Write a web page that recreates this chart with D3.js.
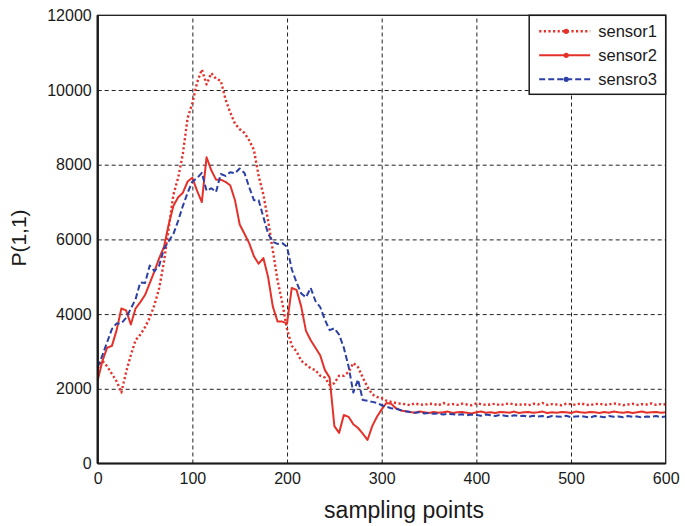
<!DOCTYPE html>
<html>
<head>
<meta charset="utf-8">
<script src="https://cdn.jsdelivr.net/npm/d3@7"></script>
<style>
  body { margin: 0; background: #fff; }
  text { font-family: "Liberation Sans", Arial, sans-serif; fill: #1a1a1a; }
</style>
</head>
<body>
<div id="chart"></div>
<script>
// sampling step between read-off values
var step = 5;

// sensor1 (dotted), read every 5 samples
var sensor1 = [
  2550, 2750, 2600, 2400, 2200, 1900, 2450, 2900, 3300, 3450,
  3650, 3900, 4250, 4700, 5400, 6300, 7200, 7650, 8300, 9250,
  9650, 10200, 10550, 10150, 10450, 10300, 10250, 9750, 9400, 9100,
  8950, 8850, 8650, 8400, 7700, 7200, 6500, 5700, 4900, 4300,
  3600, 3150, 3000, 2750, 2650, 2550, 2500, 2350, 2300, 2100,
  2150, 2350, 2350, 2450, 2690, 2580, 2300, 2050, 1850, 1780,
  1750, 1680, 1650, 1620, 1600,
  1590, 1560, 1610, 1580, 1570, 1600, 1590, 1560,
  1620, 1580, 1590, 1570, 1600, 1580, 1560, 1610,
  1590, 1570, 1580, 1600, 1560, 1590, 1610, 1580,
  1570, 1590, 1560, 1600, 1580, 1620, 1570, 1590,
  1580, 1560, 1600, 1590, 1570, 1610, 1580, 1560,
  1590, 1600, 1570, 1580, 1610, 1590, 1560, 1580,
  1600, 1570, 1590, 1580, 1610, 1570, 1590, 1580
];

// sensor2 (solid)
var sensor2 = [
  2230, 2750, 3100, 3150, 3570, 4150, 4100, 3720, 4150, 4320,
  4510, 4830, 5150, 5500, 5800, 6400, 6900, 7130, 7250, 7550,
  7650, 7300, 7000, 8200, 7850, 7600, 7600, 7540, 7450, 7050,
  6400, 6150, 5900, 5550, 5350, 5500, 4990, 4200, 3800, 3800,
  3750, 4700, 4650, 4200, 3550, 3300, 3100, 2900, 2500, 2300,
  1000, 820, 1300, 1250, 1050, 950, 800, 630, 1000, 1250,
  1450, 1620, 1600, 1480, 1420,
  1400, 1380, 1360, 1390, 1370, 1350, 1380, 1360,
  1370, 1390, 1350, 1370, 1380, 1360, 1340, 1370,
  1390, 1360, 1370, 1350, 1380, 1370, 1360, 1390,
  1350, 1370, 1380, 1360, 1370, 1390, 1350, 1370,
  1360, 1380, 1370, 1350, 1390, 1370, 1360, 1380,
  1370, 1350, 1380, 1360, 1390, 1370, 1360, 1380,
  1350, 1370, 1390, 1360, 1370, 1380, 1360, 1370
];

// sensro3 (dashed)
var sensor3 = [
  2580, 2900, 3250, 3600, 3750, 3750, 3900, 4150, 4400, 4850,
  4830, 5300, 5150, 5300, 5750, 5950, 6150, 6500, 6900, 7250,
  7550, 7640, 7780, 7300, 7370, 7270, 7750, 7700, 7800, 7770,
  7900, 7780, 7400, 7050, 7050, 6600, 6150, 5930, 5880, 5900,
  5800, 5200, 4850, 4550, 4450, 4700, 4350, 4190, 3850, 3570,
  3620, 3450, 3100, 2600, 1900, 2250, 1700, 1680, 1650, 1620,
  1560, 1520, 1480, 1470, 1430, 1400, 1380,
  1360, 1370, 1340, 1350, 1330, 1340, 1310, 1330,
  1320, 1300, 1320, 1290, 1310, 1300, 1280, 1310,
  1290, 1270, 1300, 1280, 1260, 1290, 1270, 1280,
  1250, 1280, 1260, 1270, 1240, 1270, 1260, 1250,
  1280, 1240, 1260, 1270, 1250, 1230, 1270, 1260,
  1240, 1270, 1250, 1260, 1240, 1270, 1250, 1260,
  1230, 1260, 1250, 1270, 1240, 1260
];

var seriesNames = ["sensor1", "sensor2", "sensro3"];
var xTicks = [0, 100, 200, 300, 400, 500, 600];
var yTicks = [0, 2000, 4000, 6000, 8000, 10000, 12000];

var svgWidth = 685;
var svgHeight = 526;
var margin = { top: 15.3, right: 19.3, bottom: 62.5, left: 97.7 };
var width = svgWidth - margin.left - margin.right;
var height = svgHeight - margin.top - margin.bottom;

var red = "#e4322b";
var blue = "#2b3fa6";

var styles = [
  { color: red, dash: "2.2,2.4", width: 2.4 },
  { color: red, dash: null, width: 2 },
  { color: blue, dash: "6,3", width: 2 }
];

var svg = d3.select("#chart")
    .append("svg")
    .attr("width", svgWidth)
    .attr("height", svgHeight);

var chartGroup = svg.append("g")
    .attr("transform", `translate(${margin.left}, ${margin.top})`);

var xScale = d3.scaleLinear().domain([0, 600]).range([0, width]);
var yScale = d3.scaleLinear().domain([0, 12000]).range([height, 0]);

// grid lines
chartGroup.append("g")
    .attr("transform", `translate(0,${height})`)
    .call(d3.axisBottom(xScale).tickValues(xTicks.slice(1, -1)).tickSize(-height).tickFormat(""))
    .call(g => g.select(".domain").remove())
    .selectAll("line")
    .attr("stroke", "#222")
    .attr("stroke-dasharray", "4,3");

chartGroup.append("g")
    .call(d3.axisLeft(yScale).tickValues(yTicks.slice(1, -1)).tickSize(-width).tickFormat(""))
    .call(g => g.select(".domain").remove())
    .selectAll("line")
    .attr("stroke", "#222")
    .attr("stroke-dasharray", "4,3");

// series
var line = d3.line()
    .x((d, i) => xScale(i * step))
    .y(d => yScale(d));

[sensor1, sensor2, sensor3].forEach(function(data, k) {
  chartGroup.append("path")
      .datum(data)
      .attr("fill", "none")
      .attr("stroke", styles[k].color)
      .attr("stroke-width", styles[k].width)
      .attr("stroke-dasharray", styles[k].dash)
      .attr("stroke-linejoin", "round")
      .attr("d", line);
});

// axes with labels
var xAxis = chartGroup.append("g")
    .attr("transform", `translate(0,${height})`)
    .call(d3.axisBottom(xScale).tickValues(xTicks).tickSize(0).tickPadding(9).tickFormat(d3.format("d")));
xAxis.select(".domain").remove();
xAxis.selectAll("text").attr("font-size", "16px").attr("fill", "#1a1a1a");

var yAxis = chartGroup.append("g")
    .call(d3.axisLeft(yScale).tickValues(yTicks).tickSize(0).tickPadding(6).tickFormat(d3.format("d")));
yAxis.select(".domain").remove();
yAxis.selectAll("text").attr("font-size", "16px").attr("fill", "#1a1a1a");

// box
chartGroup.append("rect")
    .attr("width", width)
    .attr("height", height)
    .attr("fill", "none")
    .attr("stroke", "#1a1a1a")
    .attr("stroke-width", 1.3);
chartGroup.append("line")
    .attr("x1", 0).attr("x2", 0).attr("y1", 0).attr("y2", height)
    .attr("stroke", "#1a1a1a").attr("stroke-width", 2.4);
chartGroup.append("line")
    .attr("x1", 0).attr("x2", width).attr("y1", height).attr("y2", height)
    .attr("stroke", "#1a1a1a").attr("stroke-width", 2);

// axis titles
svg.append("text")
    .attr("x", 404)
    .attr("y", 518)
    .attr("text-anchor", "middle")
    .attr("font-size", "23px")
    .text("sampling points");

svg.append("text")
    .attr("transform", "translate(26,238) rotate(-90)")
    .attr("text-anchor", "middle")
    .attr("font-size", "21px")
    .text("P(1,1)");

// legend
var legend = chartGroup.append("g")
    .attr("transform", `translate(${width - 136.5}, 0)`);

legend.append("rect")
    .attr("width", 136.5)
    .attr("height", 79)
    .attr("fill", "#fff")
    .attr("stroke", "#1a1a1a")
    .attr("stroke-width", 1.5);

seriesNames.forEach(function(name, k) {
  var yy = 16 + k * 24;
  legend.append("line")
      .attr("x1", 10).attr("x2", 61)
      .attr("y1", yy).attr("y2", yy)
      .attr("stroke", styles[k].color)
      .attr("stroke-width", styles[k].width)
      .attr("stroke-dasharray", styles[k].dash);
  legend.append("circle")
      .attr("cx", 37).attr("cy", yy)
      .attr("r", 2.6)
      .attr("fill", styles[k].color);
  legend.append("text")
      .attr("x", 69)
      .attr("y", yy + 6)
      .attr("font-size", "16.5px")
      .text(name);
});
</script>
</body>
</html>
